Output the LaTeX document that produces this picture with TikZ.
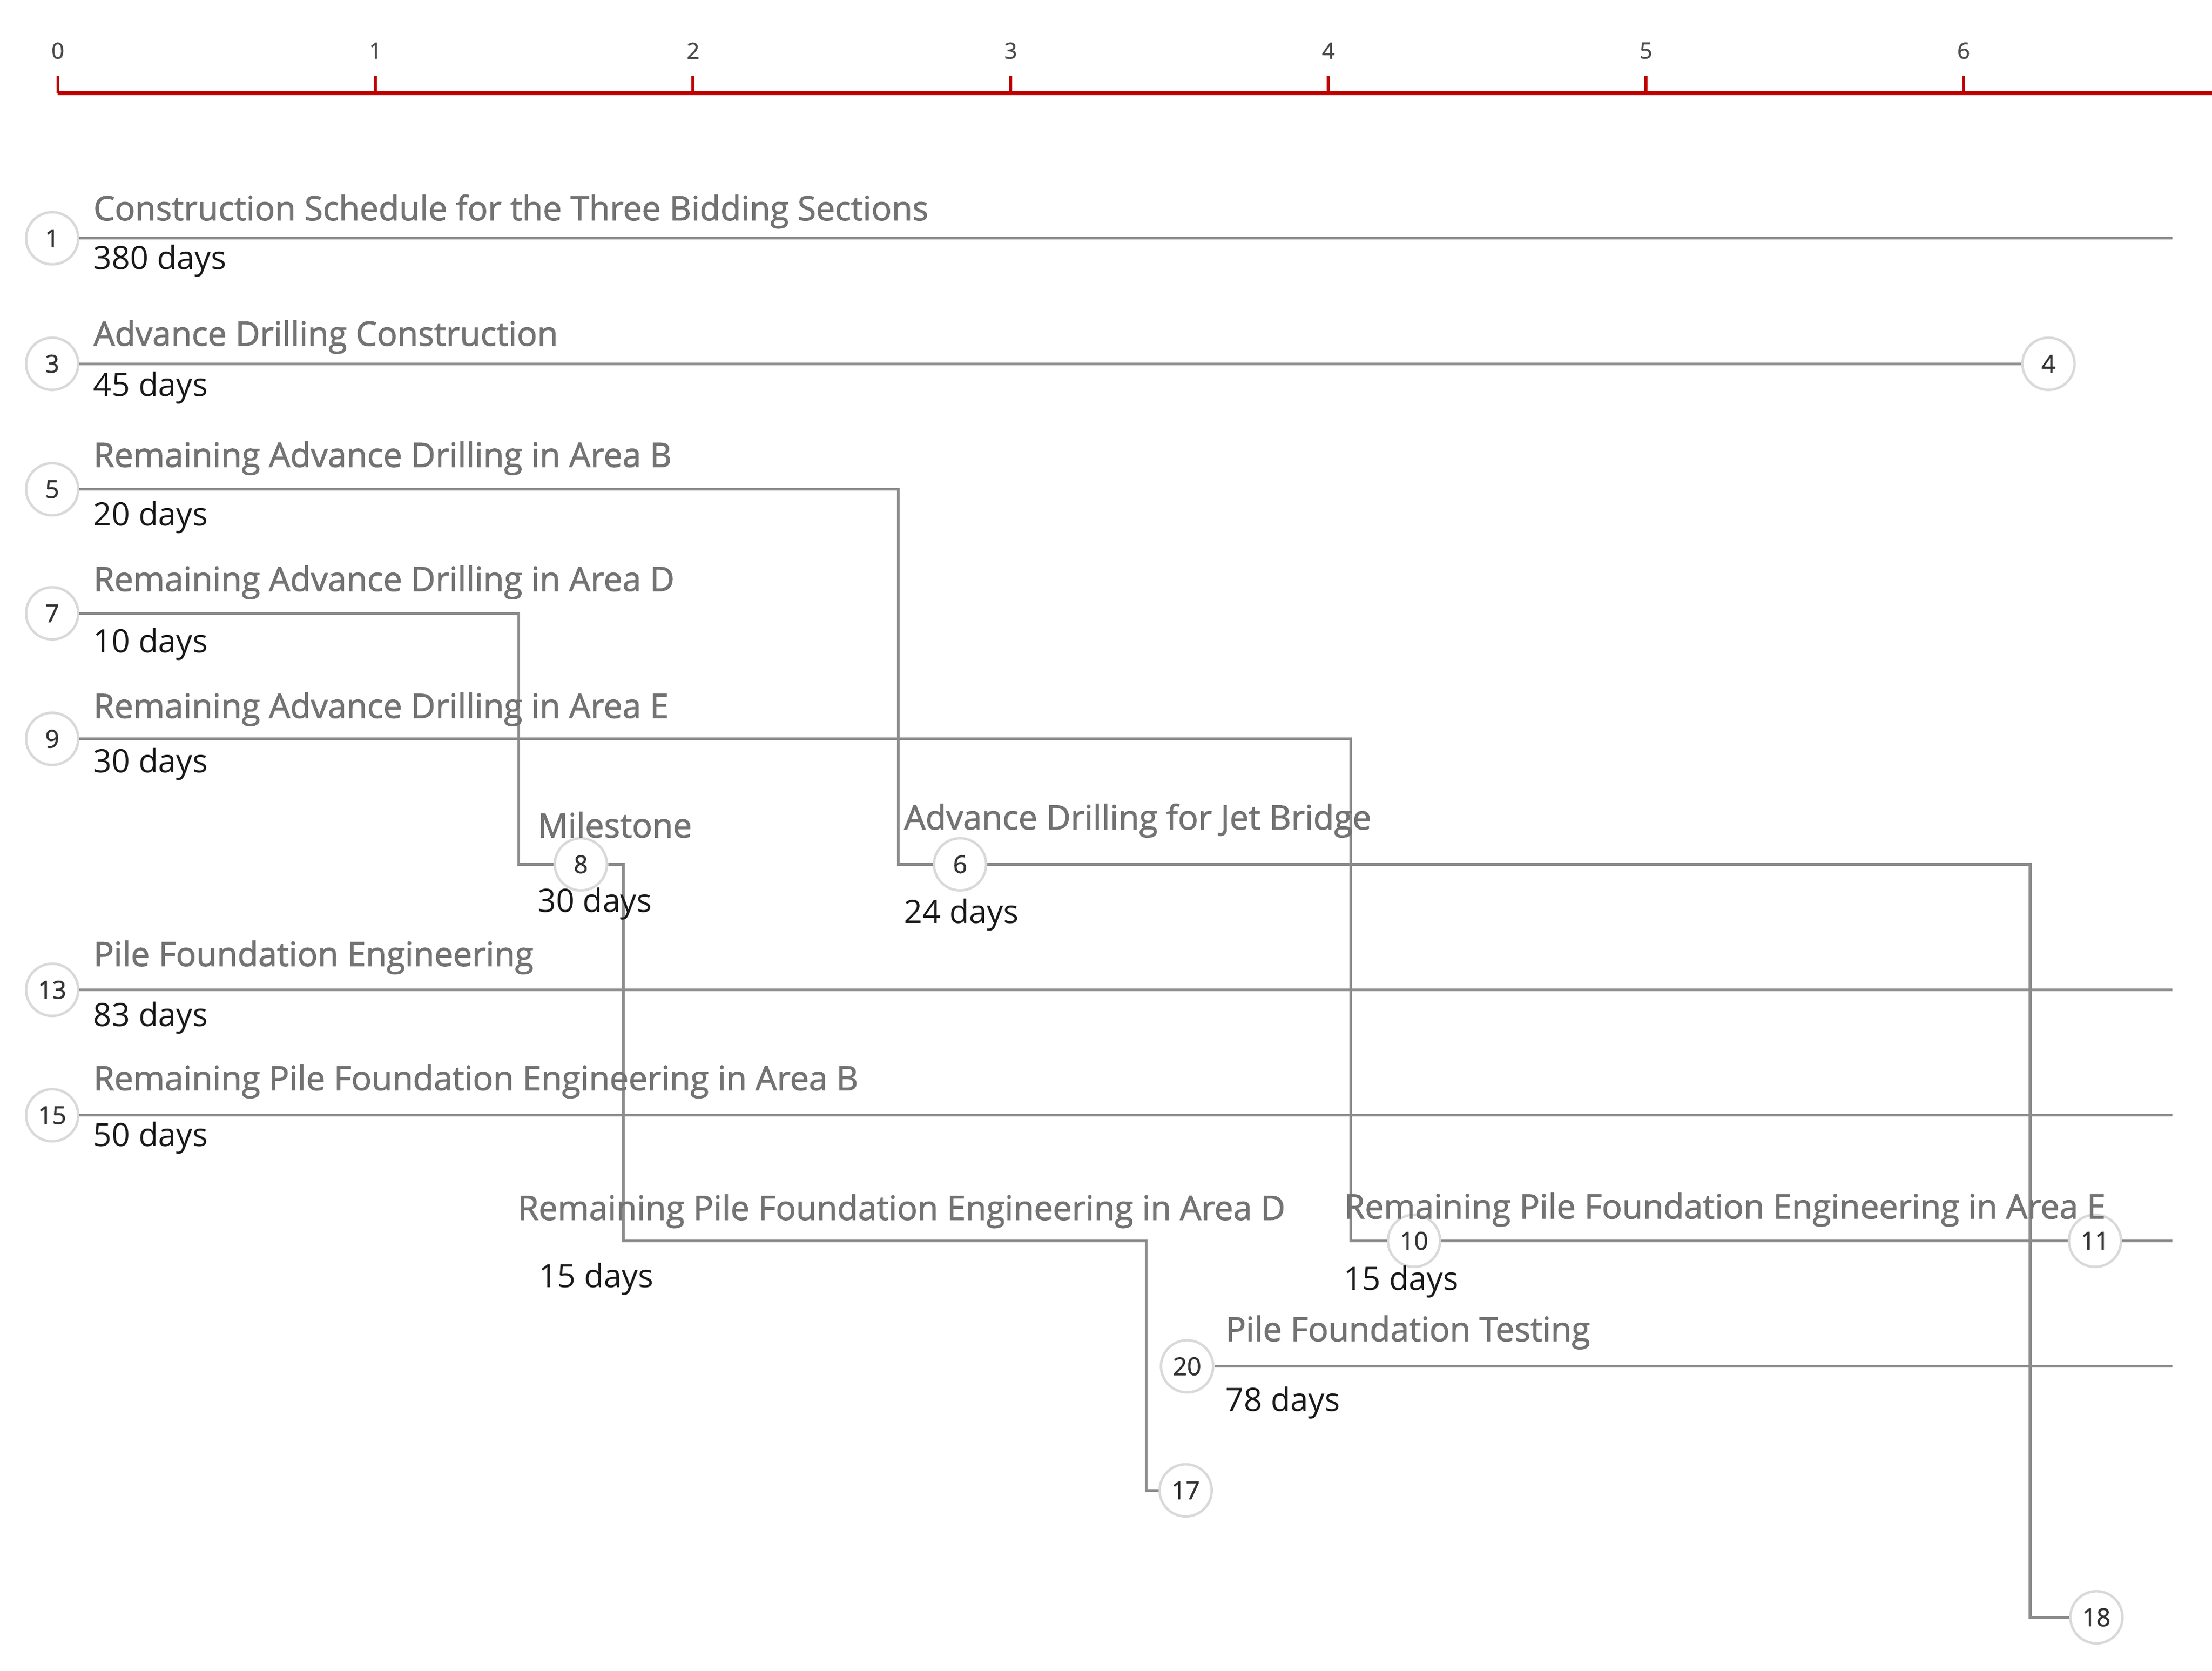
\documentclass[tikz,border=0pt]{standalone}
\usepackage{fontspec}
\setmainfont{Open Sans}
\newfontfamily\ttlfont{Open Sans}[FakeBold=1.6]
\newfontfamily\numfont{Open Sans}[FakeBold=1.2]
\begin{document}
\begin{tikzpicture}[x=0.02cm,y=-0.02cm,
  ev/.style={circle,draw=black!15,line width=1pt,fill=white,minimum size=0.74cm,inner sep=0pt,font=\numfont\fontsize{10}{12}\selectfont,text=black!80},
  ttl/.style={anchor=west,inner sep=0pt,text=black!55,font=\ttlfont\fontsize{13.6}{15}\selectfont},
  dur/.style={anchor=west,inner sep=0pt,text=black!90,font=\fontsize{13}{15}\selectfont},
  con/.style={draw=black!45,line width=1.1pt},
  axis/.style={draw=red!75!black,line width=1.6pt},
  tick/.style={inner sep=0pt,font=\numfont\fontsize{9}{10}\selectfont,text=black!70}]
\useasboundingbox (0,0) rectangle (1569,1185);
% axis
\coordinate (a0) at (41,66); \coordinate (aE) at (1569,66);
\draw[axis] (a0) -- (aE);
\foreach \k in {0,...,6}{
  \coordinate (t\k) at ({41+225.3*\k},66);
  \draw[axis,line width=1.2pt] (t\k) -- ++(0,-12);
  \node[tick] (tl\k) at ({41+225.3*\k},36) {\k};
}
% events
\node[ev] (n1) at (37,169) {1};
\node[ev] (n3) at (37,258) {3};
\node[ev] (n4) at (1453,258) {4};
\node[ev] (n5) at (37,347) {5};
\node[ev] (n7) at (37,435) {7};
\node[ev] (n9) at (37,524) {9};
\node[ev] (n13) at (37,702) {13};
\node[ev] (n15) at (37,791) {15};
\coordinate (e1) at (1541,169);
\coordinate (e13) at (1541,702);
\coordinate (e15) at (1541,791);
\coordinate (e11) at (1541,880);
\coordinate (e20) at (1541,969);
\draw[con] (n1) -- (e1);
\draw[con] (n3) -- (n4);
\draw[con] (n13) -- (e13);
\draw[con] (n15) -- (e15);
\node[ev] (n6) at (681,613) {6};
\node[ev] (n8) at (412,613) {8};
\node[ev] (n10) at (1003,880) {10};
\node[ev] (n11) at (1486,880) {11};
\node[ev] (n17) at (841,1057) {17};
\node[ev] (n18) at (1487,1147) {18};
\node[ev] (n20) at (842,969) {20};
\draw[con] (n5) -- (637,347) |- (n6);
\draw[con] (n7) -- (368,435) |- (n8);
\draw[con] (n9) -- (958,524) |- (n10);
\draw[con] (n8) -- (442,613) -- (442,880) -- (813,880) |- (n17);
\draw[con] (n6) -- (1440,613) |- (n18);
\draw[con] (n10) -- (n11);
\draw[con] (n11) -- (e11);
\draw[con] (n20) -- (e20);
% labels
\node[ttl] (l1) at (66,150) {Construction Schedule for the Three Bidding Sections};
\node[dur] (d1) at (66,185) {380 days};
\node[ttl] (l3) at (66,239) {Advance Drilling Construction};
\node[dur] (d3) at (66,275) {45 days};
\node[ttl] (l5) at (66,325) {Remaining Advance Drilling in Area B};
\node[dur] (d5) at (66,367) {20 days};
\node[ttl] (l7) at (66,413) {Remaining Advance Drilling in Area D};
\node[dur] (d7) at (66,457) {10 days};
\node[ttl] (l9) at (66,503) {Remaining Advance Drilling in Area E};
\node[dur] (d9) at (66,542) {30 days};
\node[ttl] (l8) at (381,585) {Milestone};
\node[dur] (d8) at (381,641) {30 days};
\node[ttl] (l6) at (641,582) {Advance Drilling for Jet Bridge};
\node[dur] (d6) at (641,649) {24 days};
\node[ttl] (l13) at (66,679) {Pile Foundation Engineering};
\node[dur] (d13) at (66,722) {83 days};
\node[ttl] (l15) at (66,767) {Remaining Pile Foundation Engineering in Area B};
\node[dur] (d15) at (66,807) {50 days};
\node[ttl] (l17) at (367,859) {Remaining Pile Foundation Engineering in Area D};
\node[dur] (d17) at (382,907) {15 days};
\node[ttl] (l10) at (953,858) {Remaining Pile Foundation Engineering in Area E};
\node[dur] (d10) at (953,909) {15 days};
\node[ttl] (l20) at (869,945) {Pile Foundation Testing};
\node[dur] (d20) at (869,995) {78 days};
\end{tikzpicture}
\end{document}
